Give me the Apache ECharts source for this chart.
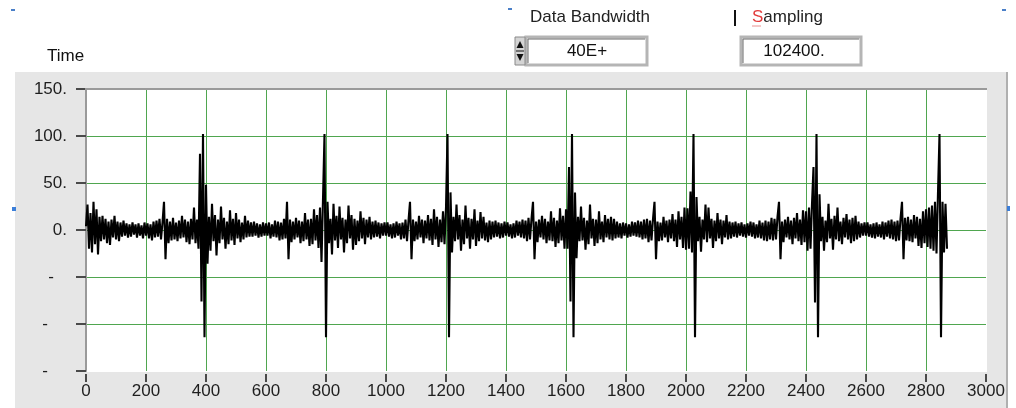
<!DOCTYPE html>
<html>
<head>
<meta charset="utf-8">
<script src="https://cdn.jsdelivr.net/npm/echarts@6/dist/echarts.min.js"></script>
<style>
  html, body { margin: 0; padding: 0; background: #ffffff; }
  #chart { width: 1016px; height: 408px; }
</style>
</head>
<body>
<div id="chart"></div>
<script>
// ---- data (sample interval 5 time units) ----
const STEP = 5;

const t0000_0195 = [4, 27, -20, 18, -24, 30, -15, 22, -26, 14,
  -12, 15, -10, 12, -14, 9, -16, 11, -8, 15,
  -10, 9, -12, 8, -7, 10, -6, 7, -8, 6,
  -7, 8, -5, 6, -8, 7, -6, 5, -9, 8];
const t0200_0395 = [-6, 7, -9, 6, -11, 9, -8, 10, -7, 12,
  -10, 8, 30, -31, 12, -14, 9, -11, 13, -10,
  8, -12, 10, -9, 15, -8, 11, -13, 9, -15,
  12, -10, 24, -14, 11, -20, 81, -76, 102, -114];
const t0400_0595 = [48, -36, 14, -22, 28, -12, 16, -27, 11, -14,
  25, -10, 13, -20, 9, -15, 21, -11, 12, -16,
  18, -9, 11, -13, 8, -10, 15, -8, 10, -7,
  8, -7, 9, -6, 7, -8, 6, -7, 8, -6];
const t0600_0795 = [7, -6, 8, -9, 6, -7, 10, -8, 9, -11,
  8, -10, 12, -9, 30, -31, 11, -13, 9, -10,
  13, -8, 10, -14, 9, -12, 18, -10, 11, -17,
  12, -15, 22, -11, 16, -19, 24, -34, 33, 102];
const t0800_0995 = [-114, 30, -14, 12, -26, 28, -11, 15, -19, 25,
  -10, 13, -24, 11, -14, 26, -9, 16, -21, 12,
  -16, 10, -12, 20, -9, 13, -15, 11, -8, 14,
  -10, 9, -8, 10, -7, 8, -9, 7, -6, 8];
const t1000_1195 = [-6, 8, -7, 6, -9, 7, -8, 9, -6, 7,
  -10, 8, -9, 11, -12, 10, 30, -31, 11, -12,
  9, -10, 15, -8, 11, -14, 10, -9, 16, -11,
  12, -16, 22, -10, 14, -18, 11, -13, 20, -15];
const t1200_1395 = [24, 102, -114, 40, -24, 14, -12, 27, -10, 16,
  -22, 11, -15, 26, -9, 13, -20, 12, -10, 22,
  -17, 10, -12, 19, -9, 14, -11, 8, -13, 10,
  -10, 9, -8, 10, -7, 8, -9, 7, -8, 9];
const t1400_1595 = [-6, 8, -7, 6, -9, 7, -8, 10, -6, 9,
  -8, 11, -9, 10, -12, 13, -10, 12, 30, -31,
  9, -13, 11, -8, 15, -10, 12, -14, 9, -11,
  20, -12, 13, -18, 10, -14, 23, -11, 15, -20];
const t1600_1795 = [22, -20, 67, -76, 102, -114, 40, -30, 14, -12,
  25, -11, 13, -21, 10, -15, 27, -9, 12, -17,
  11, -14, 20, -10, 9, -13, 16, -8, 12, -10,
  14, -11, 12, -9, 9, -8, 7, -9, 8, -6];
const t1800_1995 = [7, -8, 6, -7, 9, -6, 8, -7, 10, -8,
  9, -10, 11, -9, 12, -13, 10, -11, 12, 30,
  -31, 9, -12, 8, -11, 14, -8, 10, -13, 11,
  -9, 17, -12, 11, -18, 20, -10, 14, -19, 24];
const t2000_2195 = [-21, 23, -20, 41, -24, 102, -114, 35, -12, 14,
  -23, 11, -10, 27, -13, 24, -9, 12, -19, 10,
  -12, 18, -9, 11, -15, 10, -8, 16, -10, 9,
  -9, 8, -7, 9, -8, 7, -6, 8, -7, 6];
const t2200_2395 = [-8, 7, -6, 9, -7, 8, -9, 6, -8, 10,
  -9, 8, -11, 10, -12, 9, -10, 13, -11, 12,
  -10, 14, 30, -31, 9, -13, 11, -8, 14, -10,
  10, -15, 13, -9, 18, -12, 11, -16, 21, -13];
const t2400_2595 = [20, -22, 24, -20, 28, 67, -77, 102, -114, 38,
  -12, 14, -22, 10, -13, 28, -9, 12, -21, 15,
  -10, 24, -12, 9, -15, 13, -8, 17, -10, 11,
  -14, 13, -12, 15, -10, 9, -8, 7, -6, 8];
const t2600_2795 = [-6, 8, -7, 6, -8, 7, -9, 8, -7, 6,
  -8, 9, -10, 8, -7, 10, -9, 11, -10, 9,
  -12, 10, -11, 12, 30, -31, 13, -11, 14, -12,
  11, -13, 16, -9, 14, -17, 12, -19, 20, -14];
const t2800_2870 = [22, -18, 24, -20, 26, -22, 30, -25, 40, 102, -114, 30, -24, 28, -20];

const yTickValues = [-150, -100, -50, 0, 50, 100, 150];
const yTickLabels = ['{w|-}', '{w|-}', '{n|-}', '0.', '50.', '100.', '150.'];

const titleText = 'Time';
const bandwidthLabel = 'Data Bandwidth';
const bandwidthValue = '40E+';
const samplingLabel = 'ampling';
const samplingAccel = 'S';
const samplingValue = '102400.';

// ---- build ----
const blocks = [t0000_0195, t0200_0395, t0400_0595, t0600_0795, t0800_0995,
  t1000_1195, t1200_1395, t1400_1595, t1600_1795, t1800_1995,
  t2000_2195, t2200_2395, t2400_2595, t2600_2795, t2800_2870];
const signal = [].concat(...blocks);
const seriesData = signal.map((v, i) => [i * STEP, v]);

const FONT = 'Liberation Sans, Arial, sans-serif';
const chart = echarts.init(document.getElementById('chart'), null, { renderer: 'canvas' });

const option = {
  animation: false,
  backgroundColor: '#ffffff',
  grid: { left: 86, top: 89, width: 900, height: 282, containLabel: false },
  xAxis: {
    type: 'value', min: 0, max: 3000, interval: 200, offset: 3,
    axisLine: { show: false, onZero: false },
    axisTick: { show: true, length: 8, lineStyle: { color: '#4a4a4a', width: 2 } },
    axisLabel: { fontSize: 17, fontFamily: FONT, color: '#1e1e1e', margin: 9,
      formatter: function (v) { return String(v); } },
    splitLine: { show: true, showMinLine: false, showMaxLine: false,
      lineStyle: { color: '#4fa64f', width: 1 } }
  },
  yAxis: {
    type: 'value', min: -150, max: 150, interval: 50,
    axisLine: { show: true, onZero: false, lineStyle: { color: '#9a9a9a', width: 2 } },
    axisTick: { show: true, length: 10, lineStyle: { color: '#4a4a4a', width: 2 } },
    axisLabel: {
      fontSize: 17, fontFamily: FONT, color: '#1e1e1e', margin: 19,
      formatter: function (v) {
        const k = yTickValues.indexOf(v);
        return k >= 0 ? yTickLabels[k] : '';
      },
      rich: {
        n: { fontSize: 17, fontFamily: FONT, color: '#1e1e1e', padding: [0, 13, 0, 0] },
        w: { fontSize: 17, fontFamily: FONT, color: '#1e1e1e', padding: [0, 19, 0, 0] }
      }
    },
    splitLine: { show: true, showMinLine: false, showMaxLine: false,
      lineStyle: { color: '#4fa64f', width: 1 } }
  },
  series: [{
    type: 'line',
    data: seriesData,
    showSymbol: false,
    symbol: 'none',
    sampling: false,
    lineStyle: { color: '#000000', width: 2.1 },
    z: 5
  }],
  graphic: [
    // grey panel
    { type: 'rect', z: -10, shape: { x: 15, y: 72, width: 991, height: 336 },
      style: { fill: '#e6e6e6' } },
    { type: 'line', z: -9, shape: { x1: 1007, y1: 72, x2: 1007, y2: 408 },
      style: { stroke: '#b0b0b0', lineWidth: 2 } },
    // white plot area
    { type: 'rect', z: -8, shape: { x: 86, y: 89, width: 901, height: 283 },
      style: { fill: '#ffffff' } },
    { type: 'line', z: 3, shape: { x1: 85, y1: 89, x2: 987, y2: 89 },
      style: { stroke: '#9a9a9a', lineWidth: 2 } },
    // title
    { type: 'text', left: 47, top: 48, style: { text: titleText, font: '17px ' + FONT, fill: '#111' } },
    // Data Bandwidth control
    { type: 'text', left: 530, top: 9, style: { text: bandwidthLabel, font: '17px ' + FONT, fill: '#222' } },
    { type: 'rect', shape: { x: 526, y: 37, width: 121, height: 28 },
      style: { fill: '#ffffff', stroke: '#b5b5b5', lineWidth: 3 } },
    { type: 'polyline', shape: { points: [[528, 63], [528, 39], [645, 39]] },
      style: { stroke: '#6a6a6a', lineWidth: 1, fill: null } },
    { type: 'text', x: 587, y: 51, style: { text: bandwidthValue, font: '17px ' + FONT, fill: '#111',
      textAlign: 'center', textVerticalAlign: 'middle' } },
    // spinner
    { type: 'rect', shape: { x: 515, y: 37, width: 10, height: 28 },
      style: { fill: '#d4d4d4', stroke: '#8a8a8a', lineWidth: 1 } },
    { type: 'polygon', shape: { points: [[516.5, 48], [523.5, 48], [520, 41]] }, style: { fill: '#111' } },
    { type: 'polygon', shape: { points: [[516.5, 54], [523.5, 54], [520, 61]] }, style: { fill: '#111' } },
    { type: 'line', shape: { x1: 516, y1: 51, x2: 524, y2: 51 }, style: { stroke: '#111', lineWidth: 1 } },
    // cursor bar
    { type: 'line', shape: { x1: 735, y1: 10, x2: 735, y2: 26 }, style: { stroke: '#111', lineWidth: 2 } },
    // Sampling control
    { type: 'text', left: 752, top: 9, style: {
      text: '{r|' + samplingAccel + '}{k|' + samplingLabel + '}',
      font: '17px ' + FONT,
      rich: { r: { fill: '#e23b3b', font: '17px ' + FONT }, k: { fill: '#222', font: '17px ' + FONT } } } },
    { type: 'line', shape: { x1: 752, y1: 26, x2: 761, y2: 26 }, style: { stroke: '#e89090', lineWidth: 1 } },
    { type: 'rect', shape: { x: 741, y: 37, width: 120, height: 28 },
      style: { fill: '#ffffff', stroke: '#b5b5b5', lineWidth: 3 } },
    { type: 'polyline', shape: { points: [[743, 63], [743, 39], [859, 39]] },
      style: { stroke: '#6a6a6a', lineWidth: 1, fill: null } },
    { type: 'text', x: 794, y: 51, style: { text: samplingValue, font: '17px ' + FONT, fill: '#111',
      textAlign: 'center', textVerticalAlign: 'middle' } },
    // small selection handles
    { type: 'rect', shape: { x: 11, y: 9, width: 4, height: 2 }, style: { fill: '#4a7fc8' } },
    { type: 'rect', shape: { x: 508, y: 8, width: 4, height: 2 }, style: { fill: '#4a7fc8' } },
    { type: 'rect', shape: { x: 1002, y: 9, width: 4, height: 2 }, style: { fill: '#4a7fc8' } },
    { type: 'rect', shape: { x: 12, y: 207, width: 4, height: 4 }, style: { fill: '#3c7fd9' } },
    { type: 'rect', shape: { x: 1007, y: 206, width: 3, height: 5 }, style: { fill: '#3c7fd9' } }
  ]
};
chart.setOption(option);
</script>
</body>
</html>
